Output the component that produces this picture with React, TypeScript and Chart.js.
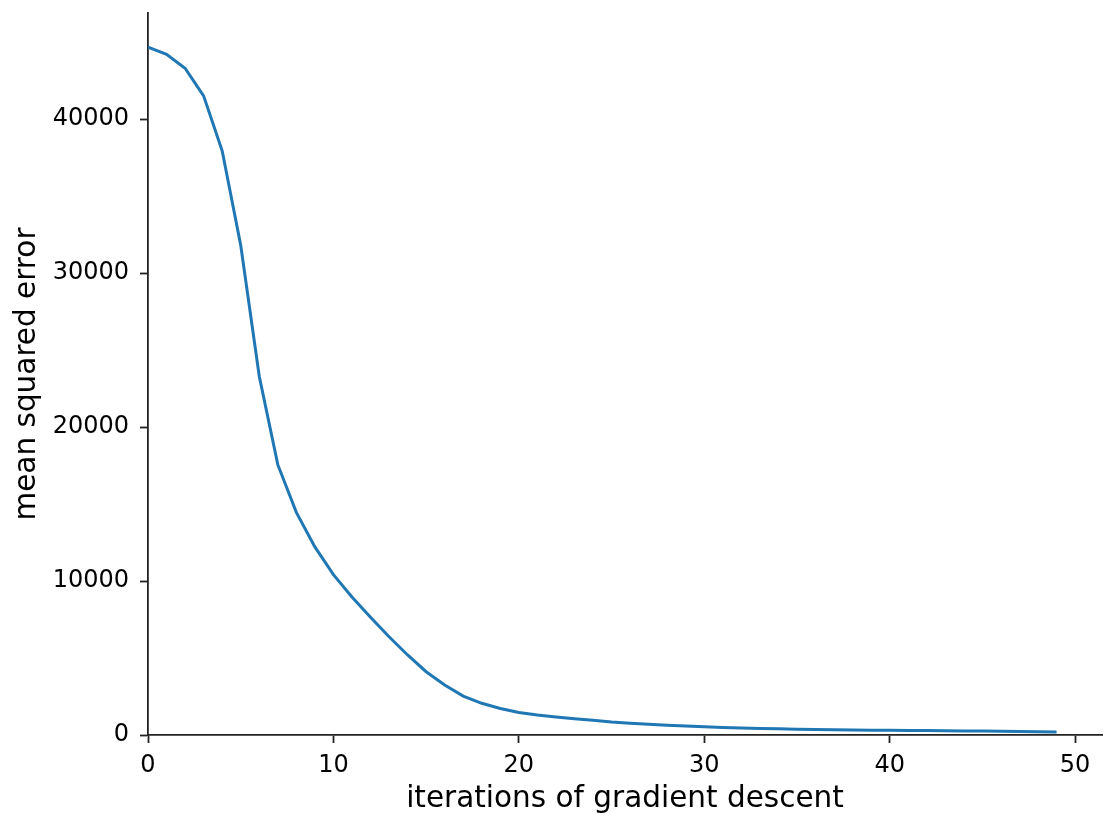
import { useEffect, useRef } from "react"
import { Chart, registerables } from "chart.js"

Chart.register(...registerables)

// iteration index and MSE values
const iterations = [
  0, 1, 2, 3, 4, 5, 6, 7, 8, 9, 10, 11, 12, 13, 14, 15, 16, 17, 18, 19, 20, 21, 22, 23, 24,
  25, 26, 27, 28, 29, 30, 31, 32, 33, 34, 35, 36, 37, 38, 39, 40, 41, 42, 43, 44, 45, 46, 47, 48, 49,
]
const mseValues = [
  44675, 44220, 43312, 41520, 37950, 31820, 23300, 17560, 14460, 12220,
  10420, 8960, 7650, 6380, 5200, 4110, 3250, 2530, 2060, 1720,
  1460, 1300, 1170, 1060, 960, 840, 770, 700, 640, 580,
  530, 490, 455, 425, 398, 375, 355, 340, 325, 315,
  305, 295, 285, 275, 265, 255, 240, 225, 210, 195,
]
const xTicks = [0, 10, 20, 30, 40, 50]
const yTicks = [0, 10000, 20000, 30000, 40000]

const SPINE = "#222"
const TEXT = "#000"
const FONT = "'DejaVu Sans', sans-serif"

export default function App() {
  const chartRef = useRef<HTMLCanvasElement>(null)
  const chartInstance = useRef<Chart | null>(null)

  useEffect(() => {
    document.body.style.margin = "0"
    if (!chartRef.current) return
    const ctx = chartRef.current.getContext("2d")
    if (!ctx) return

    if (chartInstance.current) {
      chartInstance.current.destroy()
    }

    chartInstance.current = new Chart(ctx, {
      type: "line",
      data: {
        datasets: [
          {
            label: "mse",
            data: iterations.map((x, i) => ({ x, y: mseValues[i] })),
            borderColor: "#1f77b4",
            borderWidth: 3,
            pointRadius: 0,
            tension: 0,
            fill: false,
          },
        ],
      },
      options: {
        animation: false,
        responsive: false,
        layout: { padding: { top: 13, right: 14, left: 0, bottom: 0 } },
        plugins: {
          legend: { display: false },
          tooltip: { enabled: false },
        },
        scales: {
          x: {
            type: "linear",
            min: 0,
            max: 51.45,
            afterBuildTicks: (scale) => {
              scale.ticks = xTicks.map((v) => ({ value: v }))
            },
            afterFit: (scale) => {
              scale.height = 92
              scale.paddingLeft = 0
              scale.paddingRight = 0
            },
            grid: {
              drawOnChartArea: false,
              drawTicks: true,
              tickLength: 8,
              tickWidth: 1.8,
              tickColor: SPINE,
            },
            border: { display: true, color: SPINE, width: 1.8 },
            ticks: {
              color: TEXT,
              padding: 8,
              maxRotation: 0,
              autoSkip: false,
              font: { family: FONT, size: 24 },
              callback: (v) => String(v),
            },
            title: {
              display: true,
              text: "iterations of gradient descent",
              color: TEXT,
              font: { family: FONT, size: 29.5 },
              padding: { top: 0, bottom: 10 },
            },
          },
          y: {
            type: "linear",
            min: 0,
            max: 46900,
            afterBuildTicks: (scale) => {
              scale.ticks = yTicks.map((v) => ({ value: v }))
            },
            afterFit: (scale) => {
              scale.width = 148
              scale.paddingTop = 0
              scale.paddingBottom = 0
            },
            grid: {
              drawOnChartArea: false,
              drawTicks: true,
              tickLength: 8,
              tickWidth: 1.8,
              tickColor: SPINE,
            },
            border: { display: true, color: SPINE, width: 1.8 },
            ticks: {
              color: TEXT,
              padding: 11,
              autoSkip: false,
              font: { family: FONT, size: 24 },
              callback: (v) => String(v),
            },
            title: {
              display: true,
              text: "mean squared error",
              color: TEXT,
              font: { family: FONT, size: 29.5 },
              padding: { top: 10, bottom: 0 },
            },
          },
        },
      },
    })

    return () => {
      if (chartInstance.current) {
        chartInstance.current.destroy()
        chartInstance.current = null
      }
    }
  }, [])

  return (
    <div style={{ position: "absolute", left: 0, top: 0, width: 1116, height: 827, background: "#fff" }}>
      <canvas ref={chartRef} width={1116} height={827} />
    </div>
  )
}
